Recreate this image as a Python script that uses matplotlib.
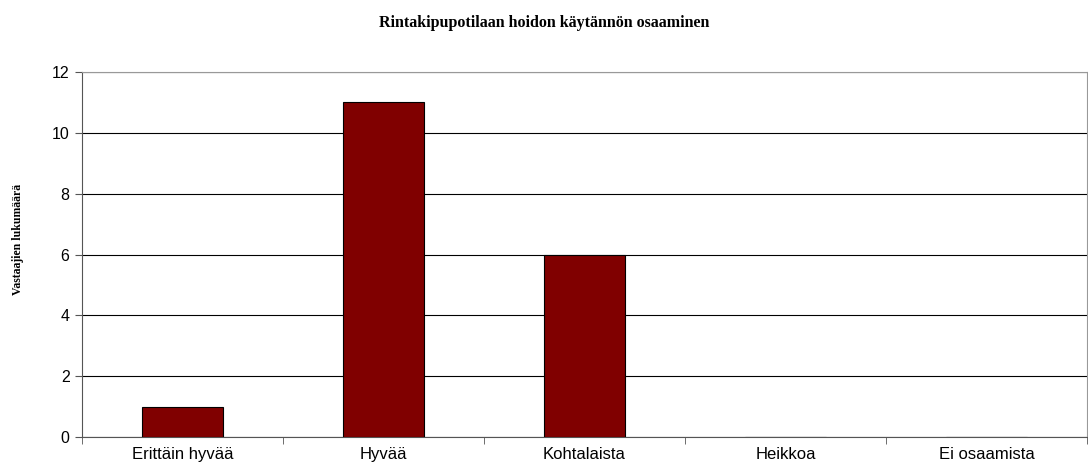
import matplotlib.pyplot as plt
import numpy as np

categories = ['Erittäin hyvää', 'Hyvää', 'Kohtalaista', 'Heikkoa', 'Ei osaamista']
counts = [1, 11, 6, 0, 0]

fig = plt.figure(figsize=(10.88, 4.68), dpi=100)
ax = fig.add_axes([0.0754, 0.0662, 0.9237, 0.7799])

x = np.arange(len(categories))
ax.bar(x, counts, width=0.4, color='#800000', edgecolor='black', linewidth=0.8, zorder=3)

ax.set_xlim(-0.5, len(categories) - 0.5)
ax.set_ylim(0, 12)
ax.set_yticks(range(0, 13, 2))
ax.yaxis.grid(True, color='black', linewidth=0.8, zorder=0)
ax.set_axisbelow(True)

# category labels centred, tick marks between categories
ax.set_xticks(x)
ax.set_xticklabels(categories, fontsize=12, family='Liberation Sans')
ax.tick_params(axis='x', length=0, pad=7)
ax.set_xticks(np.arange(-0.5, len(categories), 1), minor=True)
ax.tick_params(axis='x', which='minor', length=5, color='#555555')
ax.tick_params(axis='y', length=5, color='#555555', labelsize=11.5, pad=4)
for lab in ax.get_yticklabels():
    lab.set_family('Liberation Sans')

for side in ['top', 'right']:
    ax.spines[side].set_color('#999999')
ax.spines['left'].set_color('#555555')
ax.spines['bottom'].set_color('#555555')

ax.set_ylabel('Vastaajien lukumäärä', fontsize=8.5, fontweight='bold', family='Liberation Serif')
ax.yaxis.set_label_coords(-0.058, 0.54)
fig.suptitle('Rintakipupotilaan hoidon käytännön osaaminen', x=0.5, y=0.968,
             fontsize=11.5, fontweight='bold', family='Liberation Serif')

fig.savefig('out.png', dpi=100)
